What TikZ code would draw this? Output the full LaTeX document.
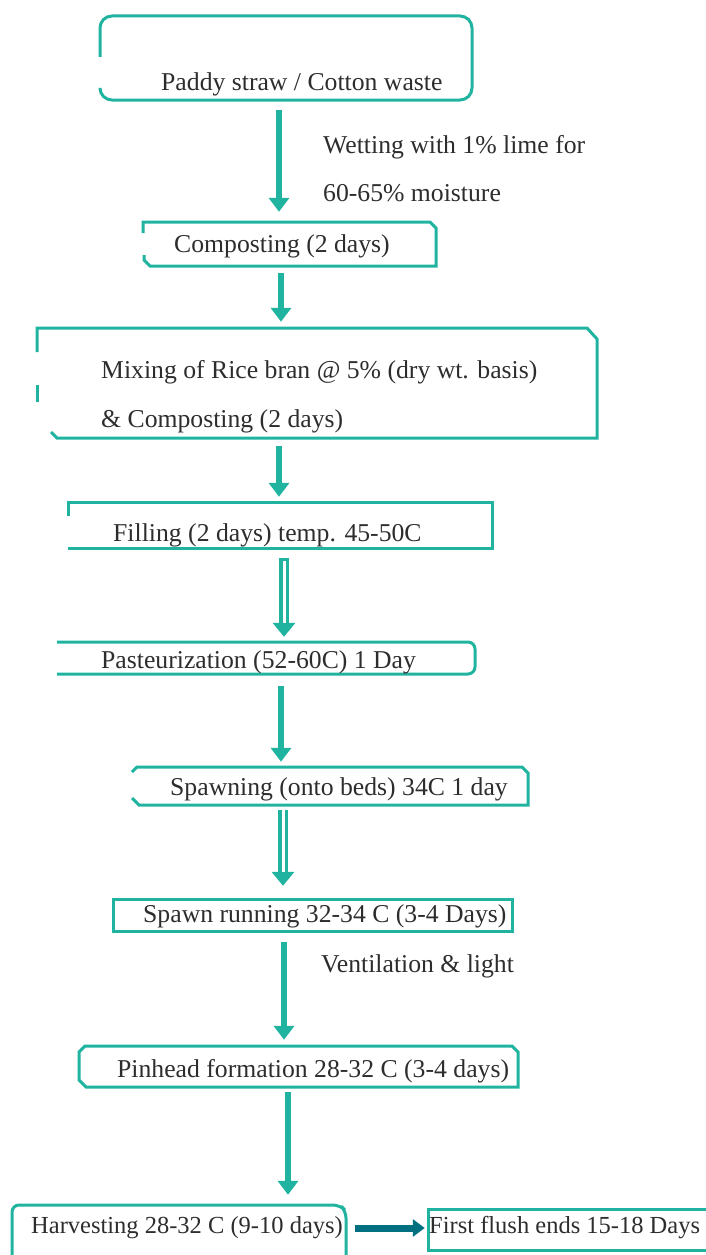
\documentclass[tikz,border=0pt]{standalone}
\usepackage{fontspec}
\setmainfont{Liberation Serif}
\usetikzlibrary{arrows.meta,fit}
\definecolor{flowteal}{RGB}{32,180,160}
\definecolor{darkteal}{RGB}{0,112,128}
\definecolor{inkgrey}{RGB}{45,45,45}
\tikzset{
  stage/.style={inner sep=0pt, draw=none, fit={#1}},
  outline/.style={draw=flowteal, line width=3pt},
  lbl/.style={anchor=base west, inner sep=0pt, text=inkgrey, font=\fontsize{25.7}{30}\selectfont},
  smalllbl/.style={lbl, font=\fontsize{24.5}{30}\selectfont},
  flow/.style={draw=flowteal, line width=6.5pt, -{Triangle[width=20pt,length=14pt]}},
  hollow/.style={draw=flowteal, line width=10pt, -{Triangle[width=22pt,length=14pt]}},
  hollowcore/.style={draw=white, line width=3pt},
  sideflow/.style={draw=darkteal, line width=7pt, -{Triangle[width=17pt,length=12pt]}}
}
\begin{document}
\begin{tikzpicture}[x=1pt, y=-1pt]
\useasboundingbox (0,0) rectangle (705,1255);
%Stages:
\node[stage={(100,16) (472,100)}] (paddy) {};
\node[stage={(143,222) (436,266)}] (compost) {};
\node[stage={(37,327) (597,438)}] (mix) {};
\node[stage={(68,502) (492,548)}] (fill) {};
\node[stage={(55,642) (475,674)}] (past) {};
\node[stage={(130,766) (528,805)}] (spawn) {};
\node[stage={(113,899) (512,931)}] (run) {};
\node[stage={(79,1046) (518,1087)}] (pin) {};
\node[stage={(12,1205) (346,1255)}] (harv) {};
\node[stage={(429,1210) (710,1250)}] (flush) {};
%Outlines:
\draw[outline, rounded corners=12pt] (100,57) -- (100,16) -- (472,16) -- (472,100) -- (100,100) -- (100,90);
\draw[outline] (143,233) -- (143,222) -- (430,222) -- (436,228) -- (436,266) -- (150,266) -- (144,260) -- (144,255);
\draw[outline] (37,352) -- (37,328) -- (587,328) -- (597,339) -- (597,438) -- (57,438) -- (51,432);
\draw[outline] (37,385) -- (37,402);
\draw[outline] (68,516) -- (68,502) -- (492,502) -- (492,548) -- (68,548);
\draw[outline, rounded corners=7pt] (57,642) -- (475,642) -- (475,674) -- (57,674);
\draw[outline] (132,772) -- (137,767) -- (522,767) -- (528,773) -- (528,805) -- (139,805) -- (132,798);
\draw[outline] (113,899) rectangle (512,931);
\draw[outline] (79,1080) -- (79,1052) -- (85,1046) -- (512,1046) -- (518,1052) -- (518,1087) -- (86,1087) -- cycle;
\draw[outline, rounded corners=7pt] (12,1255) -- (12,1205) -- (340,1205) -- (346,1211) -- (346,1255);
\draw[outline] (flush.north west) rectangle (flush.south east);
%Texts:
\node[lbl] (paddy-t) at (161,90) {Paddy straw / Cotton waste};
\node[lbl] (compost-t) at (174,252) {Composting (2 days)};
\node[lbl] (mix-t1) at (101,378) {Mixing of Rice bran @ 5\% (dry wt. basis)};
\node[lbl] (mix-t2) at (101,427) {\& Composting (2 days)};
\node[lbl] (fill-t) at (113,541) {Filling (2 days) temp. 45-50C};
\node[lbl] (past-t) at (101,668) {Pasteurization (52-60C) 1 Day};
\node[lbl] (spawn-t) at (170,795) {Spawning (onto beds) 34C 1 day};
\node[lbl] (run-t) at (143,922) {Spawn running 32-34 C (3-4 Days)};
\node[lbl] (pin-t) at (117,1077) {Pinhead formation 28-32 C (3-4 days)};
\node[smalllbl] (harv-t) at (31,1233) {Harvesting 28-32 C (9-10 days)};
\node[smalllbl] (flush-t) at (429,1233) {First flush ends 15-18 Days};
\node[lbl] (wet-t1) at (323,153) {Wetting with 1\% lime for};
\node[lbl] (wet-t2) at (323,201) {60-65\% moisture};
\node[lbl] (vent-t) at (321,972) {Ventilation \& light};
%Connectors:
\draw[flow, shorten <=10pt, shorten >=10pt] ([xshift=-7pt]paddy.south) -- ([xshift=-7pt]paddy.south |- compost.north);
\draw[flow, shorten <=7pt, shorten >=5pt] ([xshift=-8.5pt]compost.south) -- ([xshift=-8.5pt]compost.south |- mix.north);
\draw[flow, shorten <=8pt, shorten >=5pt] ([xshift=-38pt]mix.south) -- ([xshift=-38pt]mix.south |- fill.north);
\draw[hollow, shorten <=10pt, shorten >=5pt] ([xshift=4pt]fill.south) -- ([xshift=4pt]fill.south |- past.north);
\draw[hollowcore, shorten <=13pt, shorten >=19pt] ([xshift=4pt]fill.south) -- ([xshift=4pt]fill.south |- past.north);
\draw[flow, shorten <=12pt, shorten >=4pt] ([xshift=16pt]past.south) -- ([xshift=16pt]past.south |- spawn.north);
\draw[hollow, shorten <=5pt, shorten >=13pt] ([xshift=-46pt]spawn.south) -- ([xshift=-46pt]spawn.south |- run.north);
\draw[hollowcore, shorten <=5pt, shorten >=27pt] ([xshift=-46pt]spawn.south) -- ([xshift=-46pt]spawn.south |- run.north);
\draw[flow, shorten <=11pt, shorten >=6pt] ([xshift=-28.5pt]run.south) -- ([xshift=-28.5pt]run.south |- pin.north);
\draw[flow, shorten <=5pt, shorten >=10pt] ([xshift=-10.5pt]pin.south) -- ([xshift=-10.5pt]pin.south |- harv.north);
\draw[sideflow, shorten <=9pt, shorten >=4pt] ([yshift=2pt]harv.east) -- ([yshift=2pt]harv.east -| flush.west);
\end{tikzpicture}
\end{document}
